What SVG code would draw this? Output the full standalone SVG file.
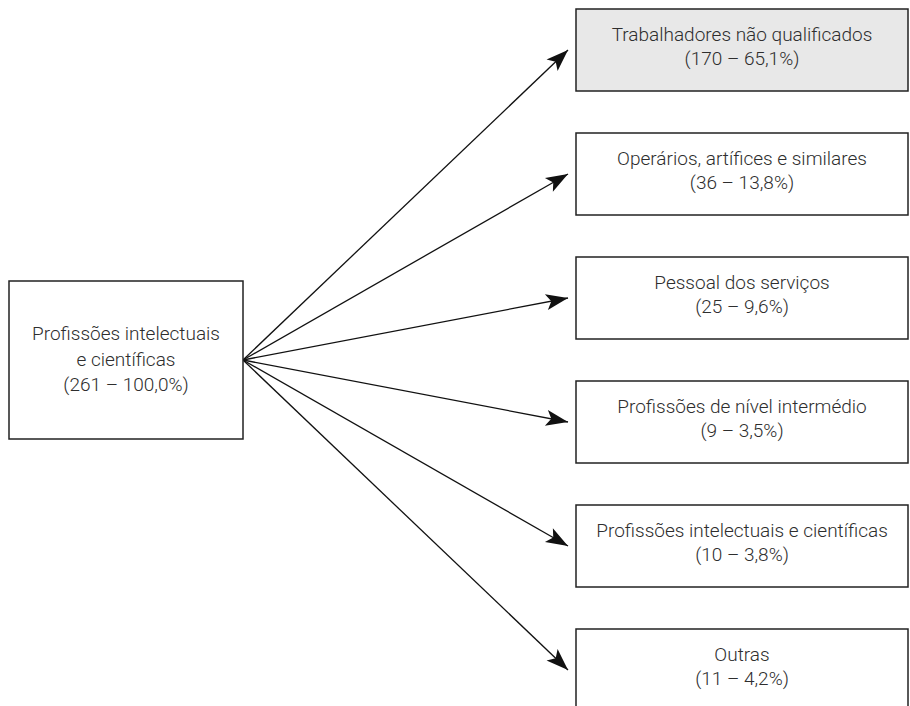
<svg xmlns="http://www.w3.org/2000/svg" width="910" height="706" viewBox="0 0 910 706">
<defs>
<style>
.box{fill:#fff;stroke:#222;stroke-width:1.5}
.grey{fill:#e8e8e8}
.t{font-family:Roboto,"Liberation Sans",Arial,sans-serif;font-weight:300;font-size:19px;fill:#2e2e2e;text-anchor:middle}
.c{stroke:#111;stroke-width:1.3;fill:none;marker-end:url(#ah)}
</style>
<marker id="ah" markerUnits="userSpaceOnUse" markerWidth="26" markerHeight="18" viewBox="-23 -9 25 18" refX="0" refY="0" orient="auto">
<path d="M0,0 L-22,-8 L-17,0 L-22,8 Z" fill="#111"/>
</marker>
</defs>
<rect width="910" height="706" fill="#fff"/>
<g id="connectors">
<line class="c" x1="243" y1="360" x2="568" y2="50"/>
<line class="c" x1="243" y1="360" x2="568" y2="174"/>
<line class="c" x1="243" y1="360" x2="568" y2="298"/>
<line class="c" x1="243" y1="360" x2="568" y2="422"/>
<line class="c" x1="243" y1="360" x2="568" y2="546"/>
<line class="c" x1="243" y1="360" x2="568" y2="670"/>
</g>
<g id="source">
<rect class="box" x="9" y="281" width="234" height="158"/>
<text class="t" x="126" y="340">Profissões intelectuais</text>
<text class="t" x="126" y="366">e científicas</text>
<text class="t" x="126" y="391">(261 – 100,0%)</text>
</g>
<g id="n1">
<rect class="box grey" x="576" y="9" width="332" height="82"/>
<text class="t" x="742" y="41">Trabalhadores não qualificados</text>
<text class="t" x="742" y="65">(170 – 65,1%)</text>
</g>
<g id="n2">
<rect class="box" x="576" y="133" width="332" height="82"/>
<text class="t" x="742" y="165">Operários, artífices e similares</text>
<text class="t" x="742" y="189">(36 – 13,8%)</text>
</g>
<g id="n3">
<rect class="box" x="576" y="257" width="332" height="82"/>
<text class="t" x="742" y="289">Pessoal dos serviços</text>
<text class="t" x="742" y="313">(25 – 9,6%)</text>
</g>
<g id="n4">
<rect class="box" x="576" y="381" width="332" height="82"/>
<text class="t" x="742" y="413">Profissões de nível intermédio</text>
<text class="t" x="742" y="437">(9 – 3,5%)</text>
</g>
<g id="n5">
<rect class="box" x="576" y="505" width="332" height="82"/>
<text class="t" x="742" y="537">Profissões intelectuais e científicas</text>
<text class="t" x="742" y="561">(10 – 3,8%)</text>
</g>
<g id="n6">
<rect class="box" x="576" y="629" width="332" height="82"/>
<text class="t" x="742" y="661">Outras</text>
<text class="t" x="742" y="685">(11 – 4,2%)</text>
</g>
</svg>
